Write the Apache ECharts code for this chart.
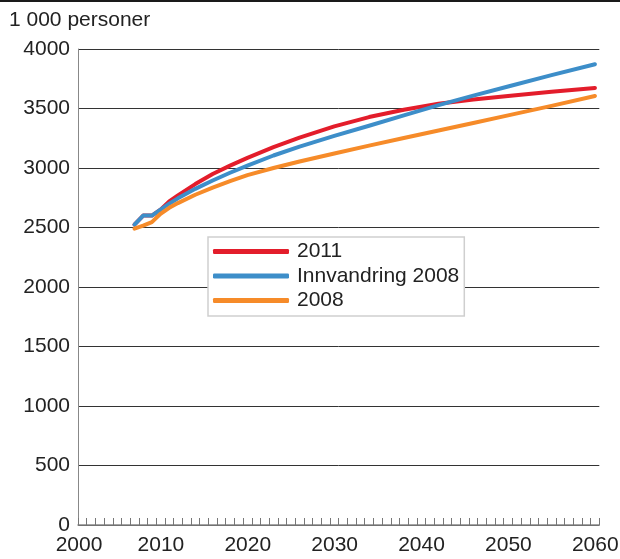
<!DOCTYPE html>
<html>
<head>
<meta charset="utf-8">
<script src="https://cdn.jsdelivr.net/npm/echarts@6/dist/echarts.min.js"></script>
<style>
html,body{margin:0;padding:0;background:#fff;}
#chart{width:620px;height:559px;}
</style>
</head>
<body>
<div id="chart"></div>
<script>
// ---- data ----
var yTitle = "1 000 personer";
var seriesNames = ["2011", "Innvandring 2008", "2008"];
var years =          [2007, 2008, 2009, 2010, 2011, 2012, 2014, 2016, 2018, 2020, 2023, 2026, 2030, 2034, 2038, 2042, 2046, 2050, 2055, 2060];
var values2011 =     [2525, 2600, 2600, 2650, 2720, 2770, 2865, 2950, 3020, 3085, 3175, 3255, 3350, 3428, 3490, 3540, 3575, 3605, 3640, 3672];
var valuesInnv2008 = [2525, 2600, 2600, 2650, 2700, 2745, 2825, 2895, 2960, 3020, 3105, 3180, 3270, 3355, 3442, 3528, 3608, 3685, 3780, 3872];
var values2008 =     [2490, 2515, 2545, 2615, 2665, 2705, 2775, 2835, 2890, 2940, 3000, 3055, 3122, 3188, 3252, 3315, 3378, 3442, 3522, 3605];
var colors = ["#e31d2b", "#3d8ec9", "#f68b29"];

function pairs(vals) {
  return years.map(function (y, i) { return [y, vals[i]]; });
}

var chart = echarts.init(document.getElementById('chart'), null, {renderer: 'canvas'});
var font = '"Liberation Sans", Arial, sans-serif';
var fs = 21;

function lineSeries(i, vals, z) {
  return {
    name: seriesNames[i], type: 'line', xAxisIndex: 1, data: pairs(vals),
    showSymbol: false, symbol: 'none', smooth: false,
    lineStyle: {color: colors[i], width: 4, cap: 'round', join: 'round'},
    itemStyle: {color: colors[i]}, z: z
  };
}

var option = {
  animation: false,
  textStyle: {fontFamily: font},
  graphic: [
    {type: 'rect', left: 0, top: 0, shape: {width: 620, height: 2}, style: {fill: '#1a1a1a'}, silent: true},
    {type: 'text', left: 9, top: 10, style: {text: yTitle, font: fs + 'px ' + font, fill: '#222'}}
  ],
  grid: {left: 78, right: 20.7, top: 49, bottom: 34, containLabel: false, outerBoundsMode: 'none'},
  legend: {
    orient: 'vertical',
    left: 208,
    top: 237,
    data: seriesNames,
    icon: 'roundRect',
    itemWidth: 76,
    itemHeight: 5,
    itemGap: 3.5,
    padding: [4, 5, 5, 5],
    backgroundColor: '#fff',
    borderColor: '#cfcfcf',
    borderWidth: 1.5,
    borderRadius: 0,
    textStyle: {fontSize: fs, color: '#222', fontFamily: font, lineHeight: 21, padding: [0, 0, 0, 3]}
  },
  xAxis: [
    {
      type: 'value', min: 2000, max: 2060, interval: 1,
      axisLine: {show: true, onZero: false, lineStyle: {color: '#888', width: 1.5}},
      axisTick: {show: true, inside: true, length: 7, lineStyle: {color: '#777', width: 1}},
      axisLabel: {
        fontSize: fs, color: '#222', margin: 10, fontFamily: font,
        formatter: function (v) {
          if (v % 10 !== 0) return '';
          return v === 2000 ? '{a|' + v + '}' : '{b|' + v + '}';
        },
        rich: {
          a: {fontSize: fs, color: '#222', fontFamily: font, padding: [0, 0, 0, 2]},
          b: {fontSize: fs, color: '#222', fontFamily: font, padding: [0, 8, 0, 0]}
        }
      },
      splitLine: {show: false}
    },
    {
      type: 'value', min: 2000.5, max: 2060.5, show: false
    }
  ],
  yAxis: {
    type: 'value', min: 0, max: 4000, interval: 500,
    axisLine: {show: true, lineStyle: {color: '#888', width: 1}},
    axisTick: {show: false},
    axisLabel: {fontSize: fs, color: '#222', margin: 8, fontFamily: font,
      formatter: function (v) { return String(v); }},
    splitLine: {show: true, lineStyle: {color: '#333', width: 1}}
  },
  series: [
    lineSeries(0, values2011, 2),
    lineSeries(1, valuesInnv2008, 3),
    lineSeries(2, values2008, 4)
  ]
};
chart.setOption(option);
</script>
</body>
</html>
